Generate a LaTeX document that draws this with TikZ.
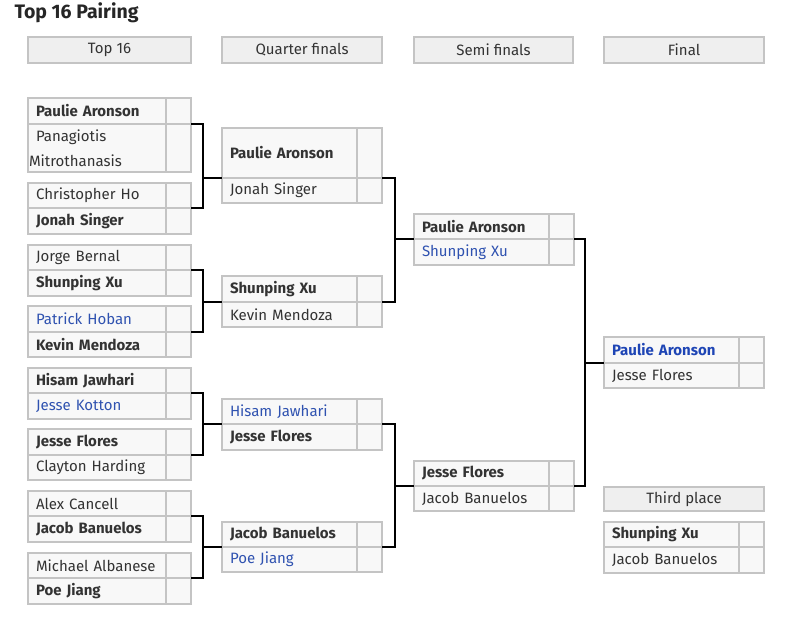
\documentclass[tikz,border=0pt]{standalone}
\usepackage{fontspec}
\setmainfont{Fira Sans}
\usetikzlibrary{calc}
\definecolor{cellfill}{HTML}{F8F8F8}
\definecolor{headfill}{HTML}{EFEFEF}
\definecolor{cellline}{HTML}{C4C4C4}
\definecolor{txt}{HTML}{333333}
\definecolor{blu}{HTML}{2F52B0}
\definecolor{bblu}{HTML}{1E45B5}
\newcommand\bl[1]{\textcolor{blu}{#1}}
\newcommand\prow[6]{%
  \node[#2, minimum height=#5pt] (#1) at (#3,#4) {#6};
  \node[score, minimum height=#5pt] (#1s) at (#1.north east) {};
}
\tikzset{
  cell/.style={draw=cellline, line width=1.2pt, fill=cellfill, inner ysep=0pt, outer sep=0pt,
    anchor=north west, text=txt, font=\fontsize{15}{18}\selectfont},
  rname/.style={cell, minimum width=138pt, text width=122pt, inner xsep=8pt, align=left},
  pname/.style={cell, minimum width=135pt, text width=119pt, inner xsep=8pt, align=left},
  score/.style={cell, minimum width=25pt, inner xsep=0pt},
  head/.style={cell, fill=headfill, minimum height=26pt, align=center},
  conn/.style={draw=black, line width=2.4pt},
}
\begin{document}
\begin{tikzpicture}[x=1pt,y=-1pt]
\useasboundingbox[fill=white] (0,0) rectangle (800,624);
\node[anchor=west, text=black!85, font=\fontsize{19.5}{22}\selectfont\bfseries] (title) at (11,13) {Top 16 Pairing};

\node[head, minimum width=163pt] (h1) at (28,37) {Top 16};
\node[head, minimum width=160pt] (h2) at (222,37) {Quarter finals};
\node[head, minimum width=159pt] (h3) at (414,37) {Semi finals};
\node[head, minimum width=160pt] (h4) at (604,37) {Final};
\node[head, minimum width=160pt, minimum height=24pt] (h5) at (604,487) {Third place};

% Top 16
\prow{a1}{rname}{28}{98}{26}{\textbf{Paulie Aronson}}
\prow{a2}{rname}{28}{124}{48}{Panagiotis\\[7pt]\hspace*{-7pt}Mitrothanasis}
\prow{a3}{rname}{28}{183}{25}{Christopher Ho}
\prow{a4}{rname}{28}{208}{26}{\textbf{Jonah Singer}}
\prow{a5}{rname}{28}{245}{25}{Jorge Bernal}
\prow{a6}{rname}{28}{270}{26}{\textbf{Shunping Xu}}
\prow{a7}{rname}{28}{306}{26}{\bl{Patrick Hoban}}
\prow{a8}{rname}{28}{332}{25}{\textbf{Kevin Mendoza}}
\prow{a9}{rname}{28}{368}{25}{\textbf{Hisam Jawhari}}
\prow{a10}{rname}{28}{393}{26}{\bl{Jesse Kotton}}
\prow{a11}{rname}{28}{429}{26}{\textbf{Jesse Flores}}
\prow{a12}{rname}{28}{455}{25}{Clayton Harding}
\prow{a13}{rname}{28}{491}{25}{Alex Cancell}
\prow{a14}{rname}{28}{516}{26}{\textbf{Jacob Banuelos}}
\prow{a15}{rname}{28}{553}{25}{Michael Albanese}
\prow{a16}{rname}{28}{578}{26}{\textbf{Poe Jiang}}

% Quarter finals
\prow{q1}{pname}{222}{128}{50}{\textbf{Paulie Aronson}}
\prow{q2}{pname}{222}{178}{25}{Jonah Singer}
\prow{q3}{pname}{222}{276}{26}{\textbf{Shunping Xu}}
\prow{q4}{pname}{222}{302}{25}{Kevin Mendoza}
\prow{q5}{pname}{222}{399}{25}{\bl{Hisam Jawhari}}
\prow{q6}{pname}{222}{424}{26}{\textbf{Jesse Flores}}
\prow{q7}{pname}{222}{522}{25}{\textbf{Jacob Banuelos}}
\prow{q8}{pname}{222}{547}{25}{\bl{Poe Jiang}}

% Semi finals
\prow{s1}{pname}{414}{214}{25}{\textbf{Paulie Aronson}}
\prow{s2}{pname}{414}{239}{26}{\bl{Shunping Xu}}
\prow{s3}{pname}{414}{461}{25}{\textbf{Jesse Flores}}
\prow{s4}{pname}{414}{486}{25}{Jacob Banuelos}

% Final
\prow{f1}{pname}{604}{337}{26}{\textcolor{bblu}{\textbf{Paulie Aronson}}}
\prow{f2}{pname}{604}{363}{25}{Jesse Flores}

% Third place
\prow{t1}{pname}{604}{522}{25}{\textbf{Shunping Xu}}
\prow{t2}{pname}{604}{547}{26}{Jacob Banuelos}

% connectors round 1
\coordinate (k1) at ($(a1s.south east)+(12,0)$);
\draw[conn] (a1s.south east) -- (k1) |- (a4s.north east);
\draw[conn] (q1.south west) -- (q1.south west -| k1);
\coordinate (k2) at ($(a5s.south east)+(12,0)$);
\draw[conn] (a5s.south east) -- (k2) |- (a8s.north east);
\draw[conn] (q3.south west) -- (q3.south west -| k2);
\coordinate (k3) at ($(a9s.south east)+(12,0)$);
\draw[conn] (a9s.south east) -- (k3) |- (a12s.north east);
\draw[conn] (q5.south west) -- (q5.south west -| k3);
\coordinate (k4) at ($(a13s.south east)+(12,0)$);
\draw[conn] (a13s.south east) -- (k4) |- (a16s.north east);
\draw[conn] (q7.south west) -- (q7.south west -| k4);
% quarter finals
\coordinate (m1) at ($(q1s.south east)+(13,0)$);
\draw[conn] (q1s.south east) -- (m1) |- (q3s.south east);
\draw[conn] (s1.south west) -- (s1.south west -| m1);
\coordinate (m2) at ($(q5s.south east)+(13,0)$);
\draw[conn] (q5s.south east) -- (m2) |- (q7s.south east);
\draw[conn] (s3.south west) -- (s3.south west -| m2);
% semi finals
\coordinate (n1) at ($(s1s.south east)+(11,0)$);
\draw[conn] (s1s.south east) -- (n1) |- (s3s.south east);
\draw[conn] (f1.south west) -- (f1.south west -| n1);
\end{tikzpicture}
\end{document}
